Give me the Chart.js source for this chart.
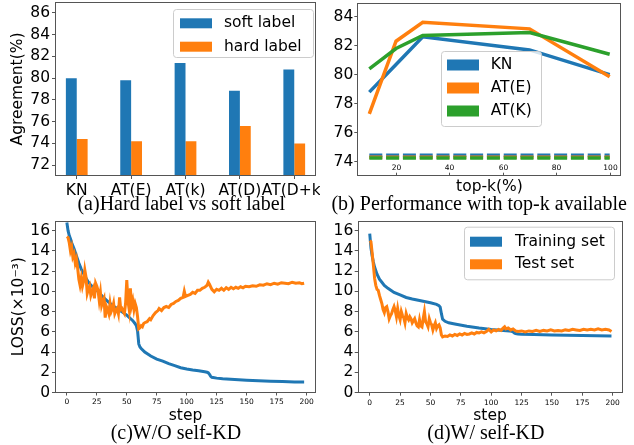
<!DOCTYPE html>
<html>
<head>
<meta charset="utf-8">
<script src="https://cdn.jsdelivr.net/npm/chart.js@4.4.1/dist/chart.umd.min.js"></script>
<style>
  body { margin: 0; background: #fff; }
  #fig { position: relative; width: 634px; height: 445px; overflow: hidden; background: #fff; }
  canvas { position: absolute; }
  .cap { position: absolute; width: 400px; text-align: center; white-space: nowrap; color: #000;
         font: 20px/20px "Liberation Serif", "Times New Roman", serif; }
</style>
</head>
<body>
<div id="fig">
  <canvas id="chartA" width="320" height="222" style="left:0;top:0"></canvas>
  <canvas id="chartB" width="316" height="222" style="left:318px;top:0"></canvas>
  <canvas id="chartC" width="318" height="227" style="left:0;top:218px"></canvas>
  <canvas id="chartD" width="316" height="227" style="left:318px;top:218px"></canvas>
  <div class="cap" style="left:-18.7px;top:193.3px">(a)Hard label vs soft label</div>
  <div class="cap" style="left:279.2px;top:193.3px">(b) Performance with top-k available</div>
  <div class="cap" style="left:-24.1px;top:422px">(c)W/O self-KD</div>
  <div class="cap" style="left:285.9px;top:422px">(d)W/ self-KD</div>
</div>
<script>
// (a) agreement of soft vs hard labels
const aCategories = ['KN', 'AT(E)', 'AT(k)', 'AT(D)', 'AT(D+k)'];
const aSoft = [80.0, 79.8, 81.4, 78.85, 80.8];
const aHard = [74.4, 74.2, 74.2, 75.6, 74.0];
const aYTicks = [72, 74, 76, 78, 80, 82, 84, 86];

// (b) performance with top-k available
const bTopK = [10, 20, 30, 70, 100];
const bKN = [78.8, 80.7, 82.6, 81.7, 80.0];
const bATE = [77.3, 82.3, 83.6, 83.15, 79.85];
const bATK = [80.4, 81.8, 82.7, 82.9, 81.4];
const bHardK = [10, 100];
const bKNHard = [74.45, 74.45];
const bATEHard = [74.32, 74.32];
const bATKHard = [74.27, 74.27];
const bXTicks = [20, 40, 60, 80, 100];
const bYTicks = [74, 76, 78, 80, 82, 84];

// (c) loss without self-KD
const cTrainStep = [0,1,2,3,4,5,6,8,10,12,15,18,20,25,30,35,40,45,50,55,57,58,59,60,61,62,65,70,75,80,85,90,95,100,
  105,110,115,117,118,119,120,121,125,130,140,150,160,170,180,190,198];
const cTrainLoss = [16.8,16.0,15.5,15.2,14.8,14.5,14.2,13.5,12.8,12.2,11.5,10.9,10.6,10.1,9.45,8.9,8.45,8.05,7.65,7.1,6.8,6.6,6.1,4.8,4.5,4.35,4.0,
  3.6,3.3,3.1,2.85,2.65,2.45,2.32,2.22,2.15,2.05,2.0,1.95,1.8,1.6,1.5,1.42,1.35,1.28,1.22,1.16,1.12,1.08,1.05,1.05];
const cTestStep = [0,1,2,3,4,5,6,7,8,9,10,11,12,13,14,15,16,17,18,19,20,21,22,23,24,25,26,27,28,29,30,31,32,33,34,35,36,37,38,39,
  40,41,42,43,44,45,46,47,48,49,50,51,52,53,54,55,56,57,58,59,60,61,62,63,64,65,
  67,69,70,72,74,76,77,79,81,83,85,87,89,91,93,95,97,98,99,101,103,105,107,109,111,113,115,117,118,119,
  121,123,125,127,129,131,133,135,137,139,141,143,145,147,149,152,155,158,161,164,167,170,173,176,179,182,185,188,191,194,196,198];
const cTestLoss = [15.4,15.3,14.8,14.0,14.4,13.4,13.7,12.8,13.2,12.3,
  11.2,10.6,11.3,10.5,11.0,12.1,11.4,9.8,10.2,10.5,
  9.6,10.0,10.3,9.3,10.8,10.5,10.1,9.1,9.9,8.6,
  9.0,9.3,7.4,8.5,8.2,7.8,8.8,8.0,8.3,8.8,
  7.8,8.1,8.3,7.8,9.4,8.2,8.3,8.0,7.8,8.8,
  11.1,9.0,8.2,10.3,8.6,9.1,8.2,8.8,8.4,7.5,
  6.3,6.4,6.6,6.5,6.8,6.9,
  7.0,7.3,7.2,7.6,7.9,8.1,8.3,8.1,8.4,8.5,8.4,8.7,8.8,9.0,9.1,9.3,9.4,10.0,9.5,9.6,
  9.7,9.9,9.8,10.1,10.1,10.3,10.4,10.6,10.9,10.7,10.2,9.95,10.2,10.1,10.3,10.1,10.35,10.2,10.4,10.25,
  10.4,10.3,10.45,10.35,10.5,10.45,10.55,10.5,10.65,10.6,10.75,10.65,10.8,10.7,10.85,10.8,10.75,10.9,10.8,10.85,10.75,10.8];

// (d) loss with self-KD
const dTrainStep = [0,1,2,3,4,6,8,10,12,15,20,25,30,35,40,45,50,55,57,58,59,60,62,65,70,80,90,100,110,115,
  117,118,119,120,122,125,135,150,175,199];
const dTrainLoss = [15.7,14.3,13.5,12.9,12.4,11.7,11.2,10.9,10.6,10.3,9.9,9.65,9.4,9.25,9.12,9.0,8.88,8.72,8.6,8.45,
  7.8,7.25,7.05,6.9,6.78,6.56,6.38,6.24,6.14,6.1,6.06,6.0,5.9,5.84,5.8,5.77,5.74,5.7,5.65,5.6];
const dTestStep = [0,1,2,3,4,5,6,7,8,9,10,11,12,13,14,15,16,17,18,19,20,21,22,23,24,25,26,27,28,29,30,31,32,33,34,35,36,37,38,39,
  40,41,42,43,44,45,46,47,48,49,50,51,52,53,54,55,56,57,58,59,60,
  62,64,66,68,70,72,74,76,78,80,82,84,86,88,90,92,94,96,98,100,102,104,106,108,110,111,112,114,116,118,
  120,122,125,128,131,134,137,140,143,146,149,152,155,158,161,164,167,170,173,176,179,182,185,188,191,194,197,199];
const dTestLoss = [15.0,14.9,13.8,12.6,11.3,10.6,10.2,10.1,9.6,9.2,
  8.8,8.2,7.9,8.4,8.5,8.0,7.3,7.6,7.8,8.2,
  8.5,8.1,7.5,8.3,7.6,7.2,8.0,7.6,7.4,6.9,
  7.8,7.4,7.2,7.5,7.3,6.9,7.1,7.3,6.9,6.6,
  6.5,7.2,6.6,6.5,7.3,8.0,7.0,6.8,6.5,7.3,
  6.9,6.7,6.2,6.6,6.9,6.35,6.6,6.7,6.4,5.7,5.5,
  5.6,5.55,5.7,5.6,5.75,5.65,5.8,5.7,5.85,5.75,5.8,5.9,5.8,5.95,5.9,6.0,5.9,6.05,6.25,6.0,
  6.2,6.1,6.25,6.15,6.4,6.5,6.3,6.4,6.2,6.3,6.1,6.05,6.1,6.0,6.1,6.05,6.15,6.05,6.15,6.1,
  6.2,6.1,6.15,6.1,6.2,6.15,6.25,6.2,6.15,6.25,6.2,6.25,6.2,6.3,6.2,6.25,6.2,6.05];

const lossYTicks = [0, 2, 4, 6, 8, 10, 12, 14, 16];
const stepTicks = [0, 25, 50, 75, 100, 125, 150, 175, 200];

const SANS = "'DejaVu Sans', 'Noto Sans', sans-serif";
const INK = '#555555';
const BLUE = '#1f77b4', ORANGE = '#ff7f0e', GREEN = '#2ca02c';

const pts = (xs, ys) => xs.map((x, i) => ({x: x, y: ys[i]}));

// box around the plot area, like matplotlib spines
const framePlugin = {
  id: 'frame',
  afterDatasetsDraw(chart) {
    const {ctx, chartArea: a} = chart;
    ctx.save();
    ctx.strokeStyle = INK;
    ctx.lineWidth = 1;
    ctx.strokeRect(Math.round(a.left) + 0.5, Math.round(a.top) + 0.5,
                   Math.round(a.right - a.left) - 1, Math.round(a.bottom - a.top) - 1);
    ctx.restore();
  }
};

// legend box drawn inside the plot area
const boxLegend = {
  id: 'boxLegend',
  afterDatasetsDraw(chart, args, o) {
    if (!o.box) return;
    const {ctx, chartArea: a} = chart;
    const x = a.left + o.box[0], y = a.top + o.box[1], w = o.box[2], h = o.box[3];
    ctx.save();
    ctx.beginPath();
    ctx.roundRect(x + 0.5, y + 0.5, w, h, 3);
    ctx.fillStyle = 'rgba(255,255,255,0.8)';
    ctx.fill();
    ctx.strokeStyle = '#cccccc';
    ctx.lineWidth = 1;
    ctx.stroke();
    ctx.font = '15.5px ' + SANS;
    ctx.textBaseline = 'middle';
    const items = chart.data.datasets.filter(d => !d.legendSkip);
    items.forEach((d, i) => {
      const cy = y + o.rows[i];
      ctx.fillStyle = d.borderColor;
      ctx.fillRect(x + o.hx, cy - o.hh / 2, 32, o.hh);
      ctx.fillStyle = '#000';
      ctx.fillText(d.label, x + o.tx, cy);
    });
    ctx.restore();
  }
};

// panel (b) has its x tick labels inside the plot
const innerXTicks = {
  id: 'innerXTicks',
  afterDatasetsDraw(chart) {
    const s = chart.scales.x, a = chart.chartArea, ctx = chart.ctx;
    ctx.save();
    ctx.strokeStyle = INK;
    ctx.lineWidth = 1;
    ctx.fillStyle = '#000';
    ctx.font = '7.5px ' + SANS;
    ctx.textAlign = 'center';
    ctx.textBaseline = 'middle';
    s.ticks.forEach(t => {
      const x = Math.round(s.getPixelForValue(t.value)) + 0.5;
      ctx.beginPath();
      ctx.moveTo(x, a.bottom);
      ctx.lineTo(x, a.bottom - 3);
      ctx.stroke();
      ctx.fillText(String(t.value), x, a.bottom - 8);
    });
    ctx.restore();
  }
};

Chart.register(framePlugin, boxLegend);

function axis(cfg) {
  const a = {
    type: 'linear',
    min: cfg.min,
    max: cfg.max,
    offset: false,
    afterBuildTicks: s => { s.ticks = cfg.ticks.map(v => ({value: v})); },
    afterFit: s => {
      if (s.isHorizontal()) s.height = cfg.size; else s.width = cfg.size;
      // fixed plot areas: no extra room for overhanging tick labels
      s.paddingTop = s.paddingBottom = s.paddingLeft = s.paddingRight = 0;
    },
    grid: {display: cfg.grid !== false, offset: false, drawOnChartArea: false, drawTicks: true, tickLength: 3, color: INK},
    border: {display: false},
    ticks: {display: cfg.labels !== false, color: '#000', font: {family: SANS, size: cfg.font || 15.5},
            padding: cfg.pad || 0, autoSkip: false, maxRotation: 0, minRotation: 0},
    title: {display: !!cfg.title, text: cfg.title || '', color: '#000', font: {family: SANS, size: 15.5},
            padding: cfg.titlePad || 0}
  };
  if (cfg.cb) a.ticks.callback = cfg.cb;
  return a;
}

function options(pad, x, y, legend) {
  return {
    responsive: false,
    animation: false,
    layout: {padding: pad},
    scales: {x: x, y: y},
    plugins: {legend: {display: false}, tooltip: {enabled: false}, boxLegend: legend || {}}
  };
}

function line(label, xs, ys, color, width, order, extra) {
  return Object.assign({
    label: label, data: pts(xs, ys), borderColor: color, backgroundColor: color,
    borderWidth: width, pointRadius: 0, tension: 0, order: order
  }, extra || {});
}

// (a)
const aPos = aCategories.map((c, i) => i);
new Chart(document.getElementById('chartA'), {
  type: 'bar',
  data: {datasets: [
    {label: 'soft label', data: pts(aPos, aSoft), backgroundColor: BLUE, borderColor: BLUE, borderWidth: 0,
     categoryPercentage: 0.4, barPercentage: 1.0},
    {label: 'hard label', data: pts(aPos, aHard), backgroundColor: ORANGE, borderColor: ORANGE, borderWidth: 0,
     categoryPercentage: 0.4, barPercentage: 1.0}
  ]},
  options: options({left: 0, top: 2, right: 4, bottom: 22},
    axis({min: -0.4, max: 4.4, ticks: aPos, size: 24, pad: 2.7, cb: v => aCategories[v]}),
    axis({min: 71, max: 87, ticks: aYTicks, size: 55, pad: 2, title: 'Agreement(%)', titlePad: 8.2}),
    {box: [118, 7, 140, 48], rows: [14.3, 37.7], hx: 7, hh: 10, tx: 51})
});

// (b)
new Chart(document.getElementById('chartB'), {
  type: 'line',
  data: {datasets: [
    line('KN', bTopK, bKN, BLUE, 3.5, 6),
    line('AT(E)', bTopK, bATE, ORANGE, 3.5, 5),
    line('AT(K)', bTopK, bATK, GREEN, 3.5, 4),
    line('KN hard', bHardK, bKNHard, BLUE, 3.5, 3, {borderDash: [13, 3.8], legendSkip: true}),
    line('AT(E) hard', bHardK, bATEHard, ORANGE, 3.5, 2, {borderDash: [13, 3.8], legendSkip: true}),
    line('AT(K) hard', bHardK, bATKHard, GREEN, 3.5, 1, {borderDash: [13, 3.8], legendSkip: true})
  ]},
  options: options({left: 0, top: 2.7, right: 12.3, bottom: 25.3},
    axis({min: 5.5, max: 104.5, ticks: bXTicks, size: 21, grid: false, labels: false, title: 'top-k(%)', titlePad: 0}),
    axis({min: 73.05, max: 84.95, ticks: bYTicks, size: 39.3, pad: 1}),
    {box: [83.7, 48.3, 100, 75], rows: [14, 37, 60], hx: 6, hh: 11, tx: 49.7}),
  plugins: [innerXTicks]
});

// (c)
new Chart(document.getElementById('chartC'), {
  type: 'line',
  data: {datasets: [
    line('Training set', cTrainStep, cTrainLoss, BLUE, 3, 2),
    line('Test set', cTestStep, cTestLoss, ORANGE, 3, 1)
  ]},
  options: options({left: 0, top: 3, right: 2, bottom: 19.5},
    axis({min: -9.9, max: 207.9, ticks: stepTicks, size: 33, font: 7.5, pad: 2.5, title: 'step', titlePad: 0}),
    axis({min: 0, max: 16.95, ticks: lossYTicks, size: 55, pad: 2, title: 'LOSS(\u00d710\u207b\u00b3)', titlePad: 9.2}))
});

// (d)
new Chart(document.getElementById('chartD'), {
  type: 'line',
  data: {datasets: [
    line('Training set', dTrainStep, dTrainLoss, BLUE, 3, 2),
    line('Test set', dTestStep, dTestLoss, ORANGE, 3, 1)
  ]},
  options: options({left: 0, top: 3, right: 11.7, bottom: 19.3},
    axis({min: -9.9, max: 207.9, ticks: stepTicks, size: 33, font: 7.5, pad: 2.5, title: 'step', titlePad: 0}),
    axis({min: 0, max: 16.95, ticks: lossYTicks, size: 39.7, pad: 1.4}),
    {box: [106.3, 5.7, 150, 52.6], rows: [15, 37.6], hx: 6, hh: 10, tx: 51})
});
</script>
</body>
</html>
